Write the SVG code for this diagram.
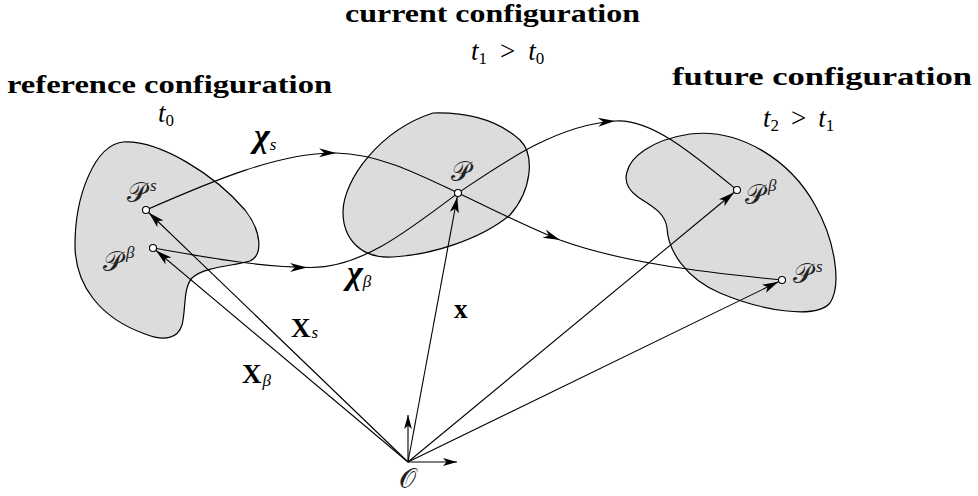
<svg xmlns="http://www.w3.org/2000/svg" width="978" height="496" viewBox="0 0 978 496">
<style>
.body{fill:#dcdcdc;stroke:#000;stroke-width:1.2}
.ln{fill:none;stroke:#000;stroke-width:1.1}
.pt{fill:#fff;stroke:#000;stroke-width:1.1}
.title{font-family:"Liberation Serif",serif;font-weight:bold;font-size:26px}
.m{font-family:"Liberation Serif",serif;font-style:italic;font-size:27px}
.cal{font-family:"DejaVu Sans","Noto Sans",serif;font-style:normal;font-size:27px;fill:#222}
.bf{font-family:"Liberation Serif",serif;font-weight:bold;font-size:27px}
.chi{font-family:"Liberation Serif",serif;font-style:italic;font-weight:bold;font-size:34px}
.sub{font-size:17px}
.up{font-style:normal}
</style>
<defs>
<marker id="arrP" viewBox="0 0 16 10" refX="20" refY="5" markerWidth="16" markerHeight="10" markerUnits="userSpaceOnUse" orient="auto">
<path d="M0,0.5 L16,5 L0,9.5 L4,5 Z" fill="#000"/>
</marker>
<marker id="arrA" viewBox="0 0 16 10" refX="16" refY="5" markerWidth="14" markerHeight="9" markerUnits="userSpaceOnUse" orient="auto">
<path d="M0,0.5 L16,5 L0,9.5 L4,5 Z" fill="#000"/>
</marker>
<path id="ah" d="M0,0 L-17,-4.5 L-12,0 L-17,4.5 Z" fill="#000"/>
</defs>

<g id="ref-body"><path class="body" d="M123,142 C160,140 215,175 245,210 C262,232 263,255 250,261 C235,266 205,266 192,278 C183,288 186,310 182,325 C178,338 165,342 145,334 C100,318 75,285 75,245 C75,195 95,145 123,142 Z"/></g>
<g id="cur-body"><path class="body" d="M433,113 C470,112 500,122 520,140 C535,155 532,190 510,215 C480,240 430,255 393,257 C360,259 343,238 343,212 C343,180 380,130 433,113 Z"/></g>
<g id="fut-body"><path class="body" d="M627,172 C630,158 650,140 690,134 C740,128 790,160 815,205 C835,240 842,285 830,303 C815,320 760,310 720,293 C685,278 668,250 667,228 C665,212 650,205 638,197 C628,190 624,182 627,172 Z"/></g>

<g id="connectors">
<path class="ln" d="M146,210 C210,182 280,152 336,153 C380,154 420,175 458,193 C492,209 525,226 560,240 C620,262 700,272 782,280"/>
<path class="ln" d="M153,248 C200,256 255,267 310,267.5 C360,268 405,233 458,193 C500,165 555,125 615,121 C650,118 692,153 737,190"/>
<use href="#ah" transform="translate(336,153) rotate(1)"/>
<use href="#ah" transform="translate(307,267.5) rotate(0)"/>
<use href="#ah" transform="translate(560,240) rotate(22)"/>
<use href="#ah" transform="translate(615,121) rotate(-4)"/>
<line class="ln" x1="408" y1="462" x2="146" y2="210" marker-end="url(#arrP)"/>
<line class="ln" x1="408" y1="462" x2="153" y2="248" marker-end="url(#arrP)"/>
<line class="ln" x1="408" y1="462" x2="458" y2="193" marker-end="url(#arrP)"/>
<line class="ln" x1="408" y1="462" x2="737" y2="190" marker-end="url(#arrP)"/>
<line class="ln" x1="408" y1="462" x2="782" y2="280" marker-end="url(#arrP)"/>
<line class="ln" x1="408" y1="462" x2="408" y2="415" marker-end="url(#arrA)"/>
<line class="ln" x1="408" y1="462" x2="457" y2="462" marker-end="url(#arrA)"/>
</g>

<g id="points">
<circle class="pt" cx="146" cy="210" r="3.5"/>
<circle class="pt" cx="153" cy="248" r="3.5"/>
<circle class="pt" cx="458" cy="193" r="3.5"/>
<circle class="pt" cx="737" cy="190" r="3.5"/>
<circle class="pt" cx="782" cy="280" r="3.5"/>
</g>

<g id="labels">
<text class="title" x="7" y="93" textLength="325" lengthAdjust="spacingAndGlyphs">reference configuration</text>
<text class="m" x="158" y="122">t<tspan class="sub up" dy="4">0</tspan></text>
<text class="title" x="345" y="22" textLength="295" lengthAdjust="spacingAndGlyphs">current configuration</text>
<text class="m" x="471" y="60">t<tspan class="sub up" dy="4">1</tspan><tspan class="up" dx="13" dy="-4">&gt;</tspan><tspan dx="13">t</tspan><tspan class="sub up" dy="4">0</tspan></text>
<text class="title" x="672" y="85" textLength="300" lengthAdjust="spacingAndGlyphs">future configuration</text>
<text class="m" x="763" y="127">t<tspan class="sub up" dy="4">2</tspan><tspan class="up" dx="12" dy="-4">&gt;</tspan><tspan dx="12">t</tspan><tspan class="sub up" dy="4">1</tspan></text>

<text class="cal" x="127" y="202">𝒫<tspan class="m sub" dx="4" dy="-11">s</tspan></text>
<text class="cal" x="103" y="271">𝒫<tspan class="m sub" dx="4" dy="-13">β</tspan></text>
<text class="cal" x="451" y="181">𝒫</text>
<text class="cal" x="745" y="204">𝒫<tspan class="m sub" dx="4" dy="-13">β</tspan></text>
<text class="cal" x="793" y="283">𝒫<tspan class="m sub" dx="4" dy="-11">s</tspan></text>
<text class="cal" x="399" y="488">𝒪</text>

<text class="chi" x="254" y="147">χ<tspan class="sub" dy="3" font-weight="normal">s</tspan></text>
<text class="chi" x="347" y="284">χ<tspan class="sub" dy="3" font-weight="normal">β</tspan></text>
<text class="bf" x="291" y="337">X<tspan class="m sub" dx="1" dy="1" font-weight="normal">s</tspan></text>
<text class="bf" x="242" y="383">X<tspan class="m sub" dx="1" dy="3" font-weight="normal">β</tspan></text>
<text class="bf" x="454" y="318">x</text>
</g>
</svg>
